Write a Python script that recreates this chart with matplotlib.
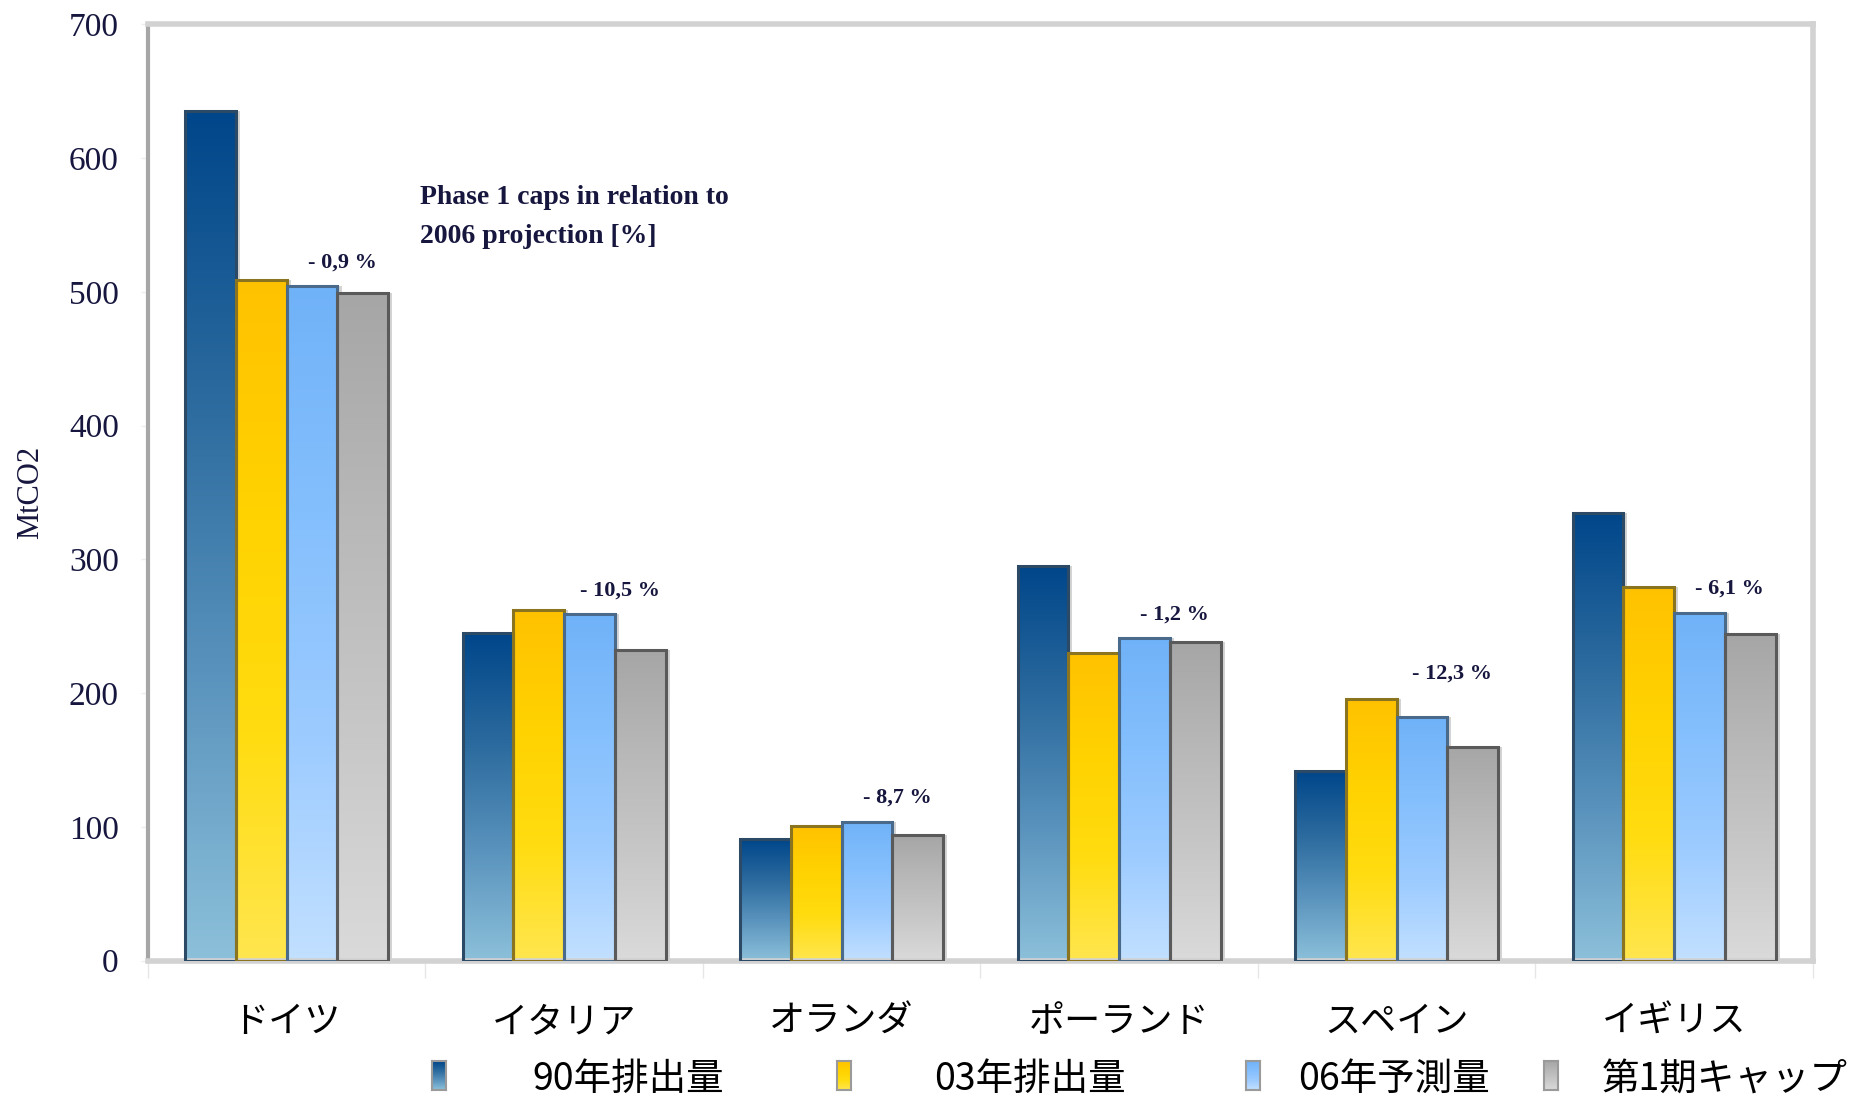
import matplotlib
matplotlib.use("Agg")
import matplotlib.pyplot as plt
import numpy as np
from matplotlib.colors import LinearSegmentedColormap


COUNTRIES = ["ドイツ", "イタリア", "オランダ", "ポーランド", "スペイン", "イギリス"]
SERIES_NAMES = ["90年排出量", "03年排出量", "06年予測量", "第1期キャップ"]

EMISSIONS_1990 = [635, 245, 91, 295, 142, 335]
EMISSIONS_2003 = [509, 262, 101, 230, 196, 279]
PROJECTION_2006 = [504, 259, 104, 241, 182, 260]
PHASE1_CAP = [499, 232, 94, 238, 160, 244]

CAP_CHANGE_LABELS = ["- 0,9 %", "- 10,5 %", "- 8,7 %", "- 1,2 %", "- 12,3 %", "- 6,1 %"]

Y_TICKS = [0, 100, 200, 300, 400, 500, 600, 700]

# gradient colours, bottom -> top
GRADIENTS = [
    ["#8cc0da", "#5a93bd", "#2b6a9e", "#00468a"],
    ["#ffe64f", "#ffdc10", "#ffd200", "#ffc200"],
    ["#c2e0ff", "#9ccbff", "#84bffd", "#70b2f8"],
    ["#dadada", "#c8c8c8", "#b8b8b8", "#a6a6a6"],
]
EDGE_COLORS = ["#2c4a66", "#8a7420", "#4a6a8c", "#5a5a5a"]

TEXT_NAVY = "#16163e"
SERIF = ["Liberation Serif", "DejaVu Serif"]
CJK = ["Noto Sans CJK JP", "DejaVu Sans"]


def gradient_image(ax, patch, cmap):
    x0, y0 = patch.get_xy()
    w, h = patch.get_width(), patch.get_height()
    grad = np.linspace(0, 1, 256).reshape(-1, 1)
    img = ax.imshow(
        grad,
        extent=(x0, x0 + w, y0, y0 + h),
        origin="lower",
        aspect="auto",
        cmap=cmap,
        zorder=1,
        interpolation="bilinear",
    )
    img.set_clip_path(patch)


def main() -> None:
    plt.rcParams["font.family"] = CJK

    series = [EMISSIONS_1990, EMISSIONS_2003, PROJECTION_2006, PHASE1_CAP]
    cmaps = [LinearSegmentedColormap.from_list(f"g{i}", c) for i, c in enumerate(GRADIENTS)]

    fig = plt.figure(figsize=(18.54, 10.98), dpi=100)
    ax = fig.add_axes([0.0798, 0.125, 0.898, 0.853])

    x = np.arange(len(COUNTRIES))
    width = 0.183
    offsets = (np.arange(4) - 1.5) * width

    for i, values in enumerate(series):
        bars = ax.bar(
            x + offsets[i],
            values,
            width,
            facecolor="none",
            edgecolor=EDGE_COLORS[i],
            linewidth=2.2,
            zorder=3,
        )
        for patch in bars.patches:
            gradient_image(ax, patch, cmaps[i])
        # thin grey shadow on the right side
        ax.bar(
            x + offsets[i] + width * 0.08,
            values,
            width,
            facecolor="#d4d4d4",
            edgecolor="none",
            zorder=0.5,
        )

    # Spain's label sits a little higher in the original
    nudges = [0, 0, 0, 0, 14, 0]
    for xi, proj, label, nudge in zip(x, PROJECTION_2006, CAP_CHANGE_LABELS, nudges):
        ax.annotate(
            label,
            xy=(xi + 0.2, proj),
            xytext=(0, 10 + nudge),
            textcoords="offset points",
            ha="center",
            va="bottom",
            fontsize=16,
            fontweight="bold",
            family=SERIF,
            color=TEXT_NAVY,
        )

    ax.text(
        0.48,
        580,
        "Phase 1 caps in relation to\n2006 projection [%]",
        ha="left",
        va="top",
        fontsize=20,
        fontweight="bold",
        family=SERIF,
        color=TEXT_NAVY,
        linespacing=1.75,
    )

    ax.set_xlim(-0.5, len(COUNTRIES) - 0.5)
    ax.set_ylim(0, 700)

    ax.set_yticks(Y_TICKS)
    ax.set_yticklabels([str(t) for t in Y_TICKS], family=SERIF, fontsize=24, color=TEXT_NAVY)
    ax.tick_params(axis="y", length=5, width=1, color="#eeeeee", pad=16)

    ax.set_xticks(x)
    ax.set_xticklabels(COUNTRIES, fontsize=26, color="black")
    ax.tick_params(axis="x", which="major", length=0, pad=31)
    ax.set_xticks(np.arange(len(COUNTRIES) + 1) - 0.5, minor=True)
    ax.tick_params(axis="x", which="minor", length=12, width=1, color="#e6e6e6")

    ax.set_ylabel("MtCO2", family=SERIF, fontsize=22, color=TEXT_NAVY)
    ax.yaxis.set_label_coords(-0.062, 0.5)

    ax.spines["left"].set_color("#a6a6a6")
    ax.spines["left"].set_linewidth(3)
    for side in ["top", "right", "bottom"]:
        ax.spines[side].set_color("#d2d2d2")
        ax.spines[side].set_linewidth(4)

    # legend laid out along the bottom edge
    marker_x = [0.2328, 0.4513, 0.6719, 0.8326]
    text_x = [0.287, 0.5038, 0.7001, 0.8641]
    for i, name in enumerate(SERIES_NAMES):
        max_ax = fig.add_axes([marker_x[i], 0.0075, 0.0075, 0.026])
        max_ax.imshow(
            np.linspace(0, 1, 64).reshape(-1, 1),
            origin="lower",
            aspect="auto",
            cmap=cmaps[i],
        )
        max_ax.set_xticks([])
        max_ax.set_yticks([])
        for spine in max_ax.spines.values():
            spine.set_color("#9a9a9a")
            spine.set_linewidth(1.5)
        fig.text(text_x[i], 0.017, name, ha="left", va="center", fontsize=27, color="black")

    fig.savefig("out.png", dpi=100, facecolor="white")
    plt.close(fig)


if __name__ == "__main__":
    main()
